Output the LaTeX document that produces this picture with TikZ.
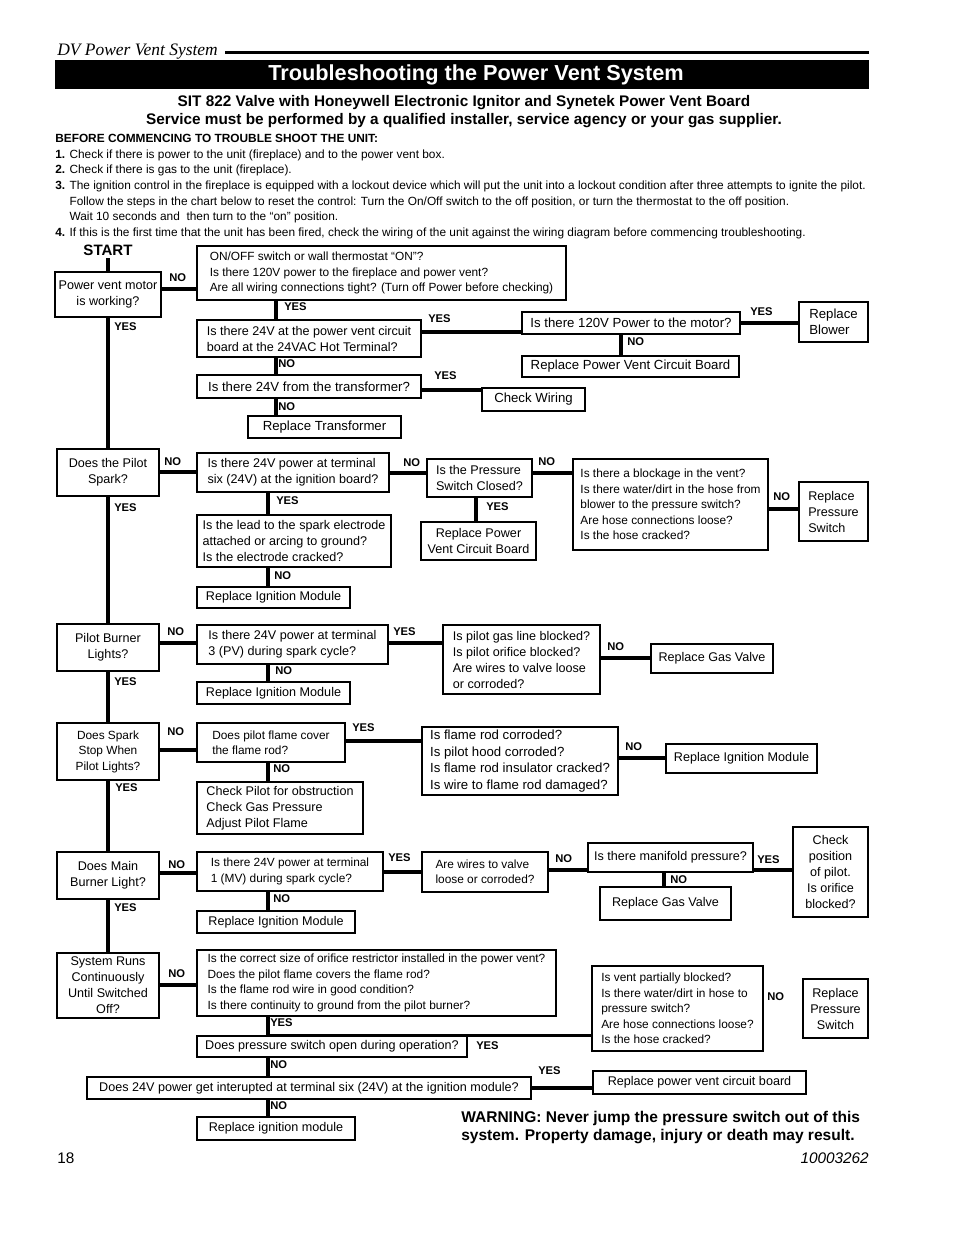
\documentclass[tikz,border=0pt]{standalone}
\usepackage{fontspec}
\setmainfont{Liberation Sans}
\newfontfamily\pageserif{Liberation Serif}

\newcommand{\fsmall}{\fontsize{8.9}{11.6}\selectfont}
\newcommand{\fmid}{\fontsize{9.45}{12}\selectfont}
\newcommand{\fbig}{\fontsize{9.9}{12.4}\selectfont}

\tikzset{
  qbox/.style={draw, line width=1.4pt, align=left, inner sep=1pt, font=\fmid},
  link/.style={line width=2.3pt},
  yn/.style={anchor=west, inner sep=0pt, font=\fontsize{8.4}{9}\selectfont\bfseries},
}

% a box given by its corners (x1,y1)-(x2,y2), in pixels of the page
\newcommand{\qbox}[7][]{%
  \node[qbox,#1,minimum width={(#5-#3)*0.75pt},minimum height={(#6-#4)*0.75pt}]
    (#2) at ({(#3+#5)/2},{(#4+#6)/2}) {#7};}

\begin{document}
\begin{tikzpicture}[x=0.75pt,y=-0.75pt]
\useasboundingbox (0,0) rectangle (954,1235);

% page head
\node[anchor=base west, inner sep=0pt, font=\pageserif\itshape\fontsize{13.1}{15}\selectfont] (head) at (57,55) {DV Power Vent System};
\draw[line width=2.2pt] (225,52.5) -- (869,52.5);
\node[fill=black, inner sep=0pt, minimum width={814*0.75pt}, minimum height={29*0.75pt}] (titlebar) at (462,74.5) {};
\node[text=white, inner sep=0pt, font=\bfseries\fontsize{16.3}{18}\selectfont] (title) at (476,74.5) {Troubleshooting the Power Vent System};
\node[align=center, inner sep=0pt, font=\bfseries\fontsize{11.5}{13.5}\selectfont] (sub) at (464,111.5)
  {SIT 822 Valve with Honeywell Electronic Ignitor and Synetek Power Vent Board\\
   Service must be performed by a qualified installer, service agency or your gas supplier.};
\node[anchor=north west, align=left, inner sep=0pt, font=\fontsize{8.9}{11.75}\selectfont] (notes) at (55,134)
  {\textbf{BEFORE COMMENCING TO TROUBLE SHOOT THE UNIT:}\\
   \textbf{1.} Check if there is power to the unit (fireplace) and to the power vent box.\\
   \textbf{2.} Check if there is gas to the unit (fireplace).\\
   \textbf{3.} The ignition control in the fireplace is equipped with a lockout device which will put the unit into a lockout condition after three attempts to ignite the pilot.\\
   \hphantom{\textbf{3.} }Follow the steps in the chart below to reset the control: Turn the On/Off switch to the off position, or turn the thermostat to the off position.\\
   \hphantom{\textbf{3.} }Wait 10 seconds and\ \ then turn to the “on” position.\\
   \textbf{4.} If this is the first time that the unit has been fired, check the wiring of the unit against the wiring diagram before commencing troubleshooting.};

% main column
\node[inner sep=2pt, font=\bfseries\fontsize{11.3}{13}\selectfont] (start) at (108,250) {START};
\qbox[align=center]{motor}{55}{272}{161}{317}{Power vent motor\\is working?}
\qbox[align=center]{pspark}{57}{449}{159}{496}{Does the Pilot\\Spark?}
\qbox[align=center]{plights}{57}{624}{159}{671}{Pilot Burner\\Lights?}
\qbox[align=center,font=\fsmall]{sstop}{57}{723}{159}{780}{Does Spark\\Stop When\\Pilot Lights?}
\qbox[align=center]{mburner}{57}{852}{159}{899}{Does Main\\Burner Light?}
\qbox[align=center]{sruns}{57}{953}{159}{1018}{System Runs\\Continuously\\Until Switched\\Off?}

% row 1
\qbox[font=\fsmall]{onoff}{197}{246}{566}{300}{ON/OFF switch or wall thermostat “ON”?\\Is there 120V power to the fireplace and power vent?\\Are all wiring connections tight? (Turn off Power before checking)}
\qbox{hot24}{197}{320}{421}{357}{Is there 24V at the power vent circuit\\board at the 24VAC Hot Terminal?}
\qbox[font=\fbig]{mot120}{522}{312}{740}{334}{Is there 120V Power to the motor?}
\qbox[font=\fbig]{blower}{799}{302}{868}{342}{Replace\\Blower}
\qbox[font=\fbig]{pvcb1}{522}{356}{739}{377}{Replace Power Vent Circuit Board}
\qbox[font=\fbig]{xfmr}{197}{375}{421}{398}{Is there 24V from the transformer?}
\qbox[font=\fbig]{wiring}{482}{388}{585}{411}{Check Wiring}
\qbox[font=\fbig]{rxfmr}{248}{416}{401}{438}{Replace Transformer}

% row 2
\qbox{six}{197}{453}{389}{492}{Is there 24V power at terminal\\six (24V) at the ignition board?}
\qbox{lead}{197}{515}{391}{567}{Is the lead to the spark electrode\\attached or arcing to ground?\\Is the electrode cracked?}
\qbox{rim1}{197}{587}{350}{608}{Replace Ignition Module}
\qbox{pressure}{427}{459}{532}{497}{Is the Pressure\\Switch Closed?}
\qbox[align=center]{pvcb2}{421}{522}{536}{560}{Replace Power\\Vent Circuit Board}
\qbox[font=\fsmall]{blockage}{573}{459}{768}{550}{Is there a blockage in the vent?\\Is there water/dirt in the hose from\\blower to the pressure switch?\\Are hose connections loose?\\Is the hose cracked?}
\qbox{rps1}{799}{482}{868}{541}{Replace\\Pressure\\Switch}

% row 3
\qbox{pv3}{197}{625}{388}{664}{Is there 24V power at terminal\\3 (PV) during spark cycle?}
\qbox{rim2}{197}{682}{350}{704}{Replace Ignition Module}
\qbox{pgas}{443}{625}{600}{694}{Is pilot gas line blocked?\\Is pilot orifice blocked?\\Are wires to valve loose\\or corroded?}
\qbox{rgv1}{651}{644}{773}{673}{Replace Gas Valve}

% row 4
\qbox[font=\fsmall]{cover}{197}{723}{345}{762}{Does pilot flame cover\\the flame rod?}
\qbox{cpilot}{197}{782}{363}{834}{Check Pilot for obstruction\\Check Gas Pressure\\Adjust Pilot Flame}
\qbox[font=\fbig]{frod}{422}{727}{618}{795}{Is flame rod corroded?\\Is pilot hood corroded?\\Is flame rod insulator cracked?\\Is wire to flame rod damaged?}
\qbox{rim3}{666}{744}{817}{773}{Replace Ignition Module}

% row 5
\qbox[font=\fsmall]{mv1}{197}{852}{383}{891}{Is there 24V power at terminal\\1 (MV) during spark cycle?}
\qbox{rim4}{197}{911}{355}{933}{Replace Ignition Module}
\qbox[font=\fsmall]{wires}{422}{852}{548}{892}{Are wires to valve\\loose or corroded?}
\qbox{manifold}{588}{843}{753}{872}{Is there manifold pressure?}
\qbox{rgv2}{600}{887}{731}{920}{Replace Gas Valve}
\qbox[align=center]{checkpos}{793}{827}{868}{917}{Check\\position\\of pilot.\\Is orifice\\blocked?}

% row 6
\qbox[font=\fsmall]{orifice}{197}{950}{556}{1016}{Is the correct size of orifice restrictor installed in the power vent?\\Does the pilot flame covers the flame rod?\\Is the flame rod wire in good condition?\\Is there continuity to ground from the pilot burner?}
\qbox{pswitch}{197}{1036}{467}{1057}{Does pressure switch open during operation?}
\qbox[font=\fsmall]{vent}{592}{966}{763}{1051}{Is vent partially blocked?\\Is there water/dirt in hose to\\pressure switch?\\Are hose connections loose?\\Is the hose cracked?}
\qbox[align=center]{rps2}{803}{979}{868}{1038}{Replace\\Pressure\\Switch}
\qbox[align=center]{big24}{87}{1077}{531}{1099}{Does 24V power get interupted at terminal six (24V) at the ignition module?}
\qbox{rpvcb3}{593}{1071}{806}{1094}{Replace power vent circuit board}
\qbox[align=center]{rim5}{197}{1117}{355}{1140}{Replace ignition module}

% connectors
\coordinate (colA) at (276,0);
\coordinate (colB) at (268,0);

\draw[link] (start.south) -- (motor.north);
\draw[link] (motor.south) -- (pspark.north);
\draw[link] (pspark.south) -- (plights.north);
\draw[link] (plights.south) -- (sstop.north);
\draw[link] (sstop.south) -- (mburner.north);
\draw[link] (mburner.south) -- (sruns.north);

\draw[link] (motor.east |- 0,289) -- (onoff.west |- 0,289);
\draw[link] (onoff.south -| colA) -- (hot24.north -| colA);
\draw[link] (hot24.east |- 0,332) -- (mot120.west |- 0,332);
\draw[link] (mot120.east |- 0,323) -- (blower.west |- 0,323);
\draw[link] (mot120.south -| 621,0) -- (pvcb1.north -| 621,0);
\draw[link] (hot24.south -| colA) -- (xfmr.north -| colA);
\draw[link] (xfmr.east |- 0,390) -- (wiring.west |- 0,390);
\draw[link] (xfmr.south -| colA) -- (rxfmr.north -| colA);

\draw[link] (pspark.east |- 0,472) -- (six.west |- 0,472);
\draw[link] (six.south -| colB) -- (lead.north -| colB);
\draw[link] (lead.south -| colB) -- (rim1.north -| colB);
\draw[link] (six.east |- 0,473) -- (pressure.west |- 0,473);
\draw[link] (pressure.south -| 476,0) -- (pvcb2.north -| 476,0);
\draw[link] (pressure.east |- 0,473) -- (blockage.west |- 0,473);
\draw[link] (blockage.east |- 0,509) -- (rps1.west |- 0,509);

\draw[link] (plights.east |- 0,643) -- (pv3.west |- 0,643);
\draw[link] (pv3.south -| colB) -- (rim2.north -| colB);
\draw[link] (pv3.east |- 0,643) -- (pgas.west |- 0,643);
\draw[link] (pgas.east |- 0,658) -- (rgv1.west |- 0,658);

\draw[link] (sstop.east |- 0,750) -- (cover.west |- 0,750);
\draw[link] (cover.south -| colB) -- (cpilot.north -| colB);
\draw[link] (cover.east |- 0,741) -- (frod.west |- 0,741);
\draw[link] (frod.east |- 0,758) -- (rim3.west |- 0,758);

\draw[link] (mburner.east |- 0,873) -- (mv1.west |- 0,873);
\draw[link] (mv1.south -| colB) -- (rim4.north -| colB);
\draw[link] (mv1.east |- 0,872) -- (wires.west |- 0,872);
\draw[link] (wires.east |- 0,870) -- (manifold.west |- 0,870);
\draw[link] (manifold.south -| 664,0) -- (rgv2.north -| 664,0);
\draw[link] (manifold.east |- 0,870) -- (checkpos.west |- 0,870);

\draw[link] (sruns.east |- 0,985) -- (orifice.west |- 0,985);
\draw[link] (orifice.south -| colB) -- (pswitch.north -| colB);
\draw[link] (pswitch.north -| colB) -- (vent.west |- pswitch.north);
\draw[link] (pswitch.south -| colB) -- (big24.north -| colB);
\draw[link] (big24.east) -- (rpvcb3.west |- big24.east);
\draw[link] (big24.south -| colB) -- (rim5.north -| colB);

% yes / no
\node[yn] (a1) at (169,278) {NO};
\node[yn] (a2) at (284,307) {YES};
\node[yn] (a3) at (114,327) {YES};
\node[yn] (a4) at (428,319) {YES};
\node[yn] (a5) at (278,364) {NO};
\node[yn] (a6) at (434,376) {YES};
\node[yn] (a7) at (278,407) {NO};
\node[yn] (a8) at (750,312) {YES};
\node[yn] (a9) at (627,342) {NO};

\node[yn] (b1) at (164,462) {NO};
\node[yn] (b2) at (276,501) {YES};
\node[yn] (b3) at (114,508) {YES};
\node[yn] (b4) at (274,576) {NO};
\node[yn] (b5) at (403,463) {NO};
\node[yn] (b6) at (538,462) {NO};
\node[yn] (b7) at (486,507) {YES};
\node[yn] (b8) at (773,497) {NO};

\node[yn] (c1) at (167,632) {NO};
\node[yn] (c2) at (393,632) {YES};
\node[yn] (c3) at (275,671) {NO};
\node[yn] (c4) at (114,682) {YES};
\node[yn] (c5) at (607,647) {NO};

\node[yn] (d1) at (167,732) {NO};
\node[yn] (d2) at (352,728) {YES};
\node[yn] (d3) at (273,769) {NO};
\node[yn] (d4) at (115,788) {YES};
\node[yn] (d5) at (625,747) {NO};

\node[yn] (e1) at (168,865) {NO};
\node[yn] (e2) at (388,858) {YES};
\node[yn] (e3) at (273,899) {NO};
\node[yn] (e4) at (114,908) {YES};
\node[yn] (e5) at (555,859) {NO};
\node[yn] (e6) at (670,880) {NO};
\node[yn] (e7) at (757,860) {YES};

\node[yn] (f1) at (168,974) {NO};
\node[yn] (f2) at (270,1023) {YES};
\node[yn] (f3) at (476,1046) {YES};
\node[yn] (f4) at (767,997) {NO};
\node[yn] (f5) at (270,1065) {NO};
\node[yn] (f6) at (538,1071) {YES};
\node[yn] (f7) at (270,1106) {NO};

% foot
\node[anchor=north west, align=left, inner sep=0pt, font=\bfseries\fontsize{11.65}{13.5}\selectfont] (warn) at (461,1111)
  {WARNING: Never jump the pressure switch out of this\\system. Property damage, injury or death may result.};
\node[anchor=west, inner sep=0pt, font=\fontsize{11.5}{13}\selectfont] (page) at (57,1158) {18};
\node[anchor=east, inner sep=0pt, font=\itshape\fontsize{11.5}{13}\selectfont] (docno) at (869,1158) {10003262};
\end{tikzpicture}
\end{document}
